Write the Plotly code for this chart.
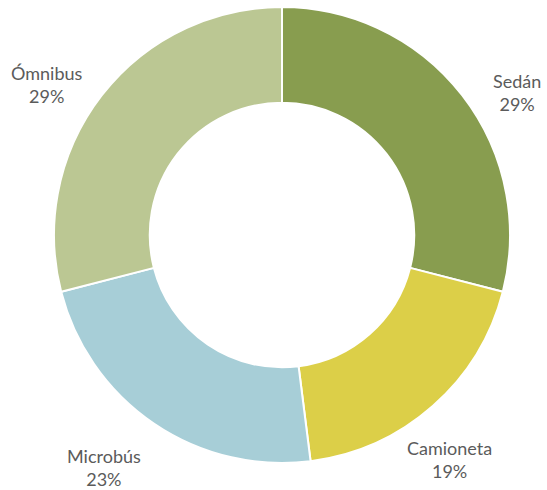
import plotly.graph_objects as go

categories = ["Sedán", "Camioneta", "Microbús", "Ómnibus"]
values = [29, 19, 23, 29]
colors = ["#889d4f", "#dccf48", "#a7ced7", "#bbc793"]

W, H = 547, 490
cx, cy, r = 282, 235, 228

# label anchor points (pixels) for the outside labels
label_px = [(517, 92), (449, 459), (104, 467), (47, 85)]

fig = go.Figure(go.Pie(
    labels=categories,
    values=values,
    sort=False,
    direction="clockwise",
    rotation=0,
    hole=0.58,
    marker=dict(colors=colors, line=dict(color="white", width=2)),
    textinfo="none",
    hoverinfo="label+percent",
    domain=dict(x=[(cx - r) / W, (cx + r) / W], y=[(H - cy - r) / H, (H - cy + r) / H]),
    automargin=False,
    showlegend=False,
))

total = sum(values)
for cat, val, (px, py) in zip(categories, values, label_px):
    fig.add_annotation(
        x=px / W, y=1 - py / H, xref="paper", yref="paper",
        xanchor="center", yanchor="middle", showarrow=False,
        text=f"{cat}<br>{round(100 * val / total)}%",
        font=dict(family="Lato, Noto Sans, sans-serif", size=18, color="#5b5b5b"),
        align="center",
    )

fig.update_layout(
    width=W, height=H,
    margin=dict(l=0, r=0, t=0, b=0),
    paper_bgcolor="white",
    plot_bgcolor="white",
)
fig.write_html("out.html", config={"displayModeBar": False},
               post_script="document.body.style.margin='0';")
